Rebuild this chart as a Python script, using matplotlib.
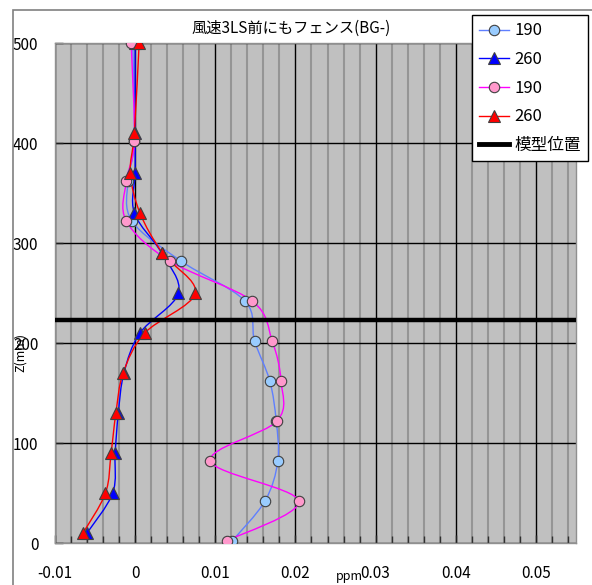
import numpy as np
import matplotlib.pyplot as plt
from matplotlib.path import Path
from matplotlib.patches import PathPatch, Rectangle
from matplotlib.lines import Line2D
from matplotlib.ticker import MultipleLocator

plt.rcParams['font.family'] = ['Noto Sans CJK JP', 'DejaVu Sans']

# heights (mm)
z_circle = [500, 402, 362, 322, 282, 242, 202, 162, 122, 82, 42, 2]
z_tri = [500, 410, 370, 330, 290, 250, 210, 170, 130, 90, 50, 10]

# concentrations (ppm)
c190_a = [-0.0003, -0.0001, -0.0009, -0.0004, 0.0057, 0.0137, 0.0149, 0.0168, 0.0176, 0.0178, 0.0162, 0.0121]
c260_a = [0.0000, 0.0000, 0.0000, -0.0001, 0.0033, 0.0054, 0.0006, -0.0014, -0.0021, -0.0025, -0.0028, -0.0060]
c190_b = [-0.0005, -0.0001, -0.0011, -0.0011, 0.0043, 0.0146, 0.0171, 0.0182, 0.0177, 0.0094, 0.0204, 0.0114]
c260_b = [0.0005, -0.0001, -0.0006, 0.0006, 0.0034, 0.0075, 0.0012, -0.0015, -0.0024, -0.0030, -0.0037, -0.0065]

model_z = 223
x_ticks = [-0.01, 0, 0.01, 0.02, 0.03, 0.04, 0.05]
x_labels = ['-0.01', '0', '0.01', '0.02', '0.03', '0.04', '0.05']

series = [
    # (x, z, label, line color, marker, face color)
    (c190_a, z_circle, '190', '#5f7fff', 'o', '#99ccff'),
    (c260_a, z_tri, '260', '#0000ff', '^', '#0000ff'),
    (c190_b, z_circle, '190', '#ff00ff', 'o', '#ff99cc'),
    (c260_b, z_tri, '260', '#ff0000', '^', '#ff0000'),
]


def smooth_path(x, y):
    # excel-like smoothed line: catmull-rom segments as cubic beziers
    p = np.column_stack([x, y]).astype(float)
    ext = np.vstack([p[0], p, p[-1]])
    verts = [p[0]]
    codes = [Path.MOVETO]
    for i in range(1, len(ext) - 2):
        p0, p1, p2, p3 = ext[i - 1], ext[i], ext[i + 1], ext[i + 2]
        verts += [p1 + (p2 - p0) / 6, p2 - (p3 - p1) / 6, p2]
        codes += [Path.CURVE4] * 3
    return Path(verts, codes)


fig = plt.figure(figsize=(5.92, 5.85), dpi=100)
fig.patch.set_facecolor('white')
fig.add_artist(Rectangle((13 / 592, -0.1), 1.1, 1 - 10 / 585 + 0.1, transform=fig.transFigure,
                         fill=False, edgecolor='#808080', lw=1.2))

ax = fig.add_axes([55 / 592, 42 / 585, 521 / 592, 500 / 585])
ax.set_facecolor('#c0c0c0')

for x, z, label, lc, mk, fc in series:
    ax.add_patch(PathPatch(smooth_path(x, z), facecolor='none', edgecolor=lc, lw=1, zorder=3))
for x, z, label, lc, mk, fc in series:
    ax.plot(x, z, linestyle='none', marker=mk, markersize=8 if mk == '^' else 7.5,
            markerfacecolor=fc, markeredgecolor='#404040', markeredgewidth=0.8, zorder=4)

ax.axhline(model_z, color='black', lw=3.2, zorder=5)

ax.set_xlim(-0.01, 0.055)
ax.set_ylim(0, 500)
ax.set_xticks(x_ticks)
ax.set_xticklabels(x_labels)
ax.xaxis.set_minor_locator(MultipleLocator(0.002))
ax.yaxis.set_major_locator(MultipleLocator(100))

ax.grid(True, which='major', axis='both', color='black', lw=1, zorder=1)
ax.grid(True, which='minor', axis='x', color='#959595', lw=1.5, zorder=0.5)
ax.set_axisbelow(True)

ax.tick_params(axis='both', which='major', direction='in', length=6, width=1, labelsize=11, color='#202020')
ax.tick_params(axis='x', which='major', pad=16)
ax.tick_params(axis='y', which='major', pad=12)
ax.tick_params(axis='x', which='minor', direction='in', length=5, width=1, color='#303030')
for s in ax.spines.values():
    s.set_color('#909090')
    s.set_linewidth(1)

ax.set_xlabel('ppm', fontsize=9)
ax.xaxis.set_label_coords((349 - 55) / 521, -0.054)
ax.set_ylabel('Z(mm)', fontsize=9)
ax.yaxis.set_label_coords(-0.054, 0.38)

fig.text(291 / 592, 1 - 28 / 585, '風速3LS前にもフェンス(BG-)', ha='center', va='center', fontsize=11)

handles = []
for x, z, label, lc, mk, fc in series:
    handles.append(Line2D([], [], color=lc, lw=1, marker=mk, markersize=8 if mk == '^' else 7.5,
                          markerfacecolor=fc, markeredgecolor='#404040', markeredgewidth=0.8, label=label))
handles.append(Line2D([], [], color='black', lw=3.5, label='模型位置'))
leg = fig.legend(handles=handles, loc='upper right', bbox_to_anchor=(588 / 592, 1 - 15 / 585),
                 fontsize=12, frameon=True, fancybox=False, edgecolor='black', framealpha=1,
                 handlelength=1.8, handletextpad=0.3, labelspacing=0.7, borderpad=0.44, borderaxespad=0)
leg.get_frame().set_linewidth(1)
leg.set_zorder(10)

fig.savefig('out.png', dpi=100)
